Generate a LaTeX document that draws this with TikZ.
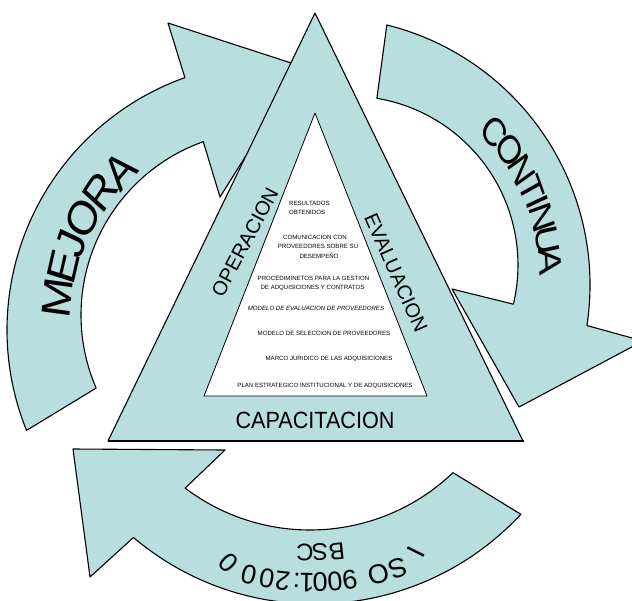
\documentclass[tikz,border=0pt]{standalone}
\usepackage{fontspec}
\setmainfont{Liberation Sans}
\definecolor{bandfill}{RGB}{184,222,224}
\begin{document}
\begin{tikzpicture}[x=1pt,y=-1pt,
  band/.style={fill=bandfill, draw=black, line width=1.1pt, line join=round},
  inner/.style={fill=white, draw=black, line width=0.8pt, line join=round},
  bigM/.style={font=\fontsize{48}{48}\selectfont, inner sep=0pt, text height=34.4pt, text depth=0pt, xscale=0.85},
  bigC/.style={font=\fontsize{40}{40}\selectfont, inner sep=0pt, text height=28.6pt, text depth=0pt, xscale=0.8},
  iso/.style={font=\fontsize{27}{27}\selectfont, inner sep=0pt, text height=19.3pt, text depth=0pt},
  bsc/.style={font=\fontsize{24}{24}\selectfont, inner sep=0pt, text height=17.2pt, text depth=0pt},
  side/.style={font=\fontsize{20}{20}\selectfont, inner sep=0pt},
  small/.style={font=\fontsize{6.1}{7}\selectfont, inner sep=0pt},
]
\useasboundingbox (0,0) rectangle (632,600);
\clip (0,0) rectangle (632,600);

% MEJORA arrow
\draw[band] ([shift={(158:268)}]275,330) arc[start angle=158, end angle=250.35, radius=268]
  -- (168,23) -- (302,66.5) -- (220,197)
  -- ([shift={(250.4:184)}]265,315) arc[start angle=250.4, end angle=156.6, radius=184] -- cycle;

% CONTINUA arrow
\draw[band] ([shift={(-76:268)}]322,285) arc[start angle=-76, end angle=8.7, radius=268]
  -- (643,341) -- (519,407) -- (452,289)
  -- ([shift={(13.4:169)}]349,265) arc[start angle=13.4, end angle=-80.5, radius=169] -- cycle;

% BSC / ISO arrow
\draw[band] ([shift={(42.9:281)}]315,323) arc[start angle=42.9, end angle=130.25, radius=281]
  -- (90,577) -- (73,449) -- (225,450)
  -- ([shift={(127.1:207)}]310,323) arc[start angle=127.1, end angle=46.3, radius=207] -- cycle;

% triangle
\draw[band] (315,13) -- (523,441) -- (108,441) -- cycle;
\draw[line width=2.6pt] (108,441) -- (524,441);
\draw[inner] (315,113) -- (427,396) -- (204,396) -- cycle;

% arc texts
\foreach \ch/\a [count=\i] in {M/186.6,E/195.1,J/201.7,O/209.0,R/217.5,A/225.4}
  \node[bigM, rotate={-90-(\a)}] (mej\i) at ([shift={(\a:214)}]270,322) {\ch};
\foreach \ch/\a [count=\i] in {C/-42.4,O/-36.0,N/-29.7,T/-24.0,I/-20.3,N/-16.0,U/-9.9,A/-4.0}
  \node[bigC, rotate={-90-(\a)}] (con\i) at ([shift={(\a:216)}]335,277) {\ch};
\node[iso, rotate=-116.6] (isoI) at (416,552) {I};
\foreach \ch/\a [count=\i] in {S/70.7,O/75.2,9/81.6,0/84.9,0/88.2,1/91.1,:/93.4,2/96.5,0/100.0,0/104.1}
  \node[iso, rotate={-90-(\a)}] (iso\i) at ([shift={(\a:260)}]312,323) {\ch};
\node[iso, rotate=135] (isoZ) at (228,563) {0};
\foreach \ch/\a [count=\i] in {B/83.8,S/88.0,C/91.75}
  \node[bsc, rotate={-90-(\a)}] (bsc\i) at ([shift={(\a:230)}]312,323) {\ch};

% triangle labels
\node[side, rotate=62] (oper) at (245,242) {OPERACION};
\node[side, rotate=-66] (eval) at (396,273) {EVALUACION};
\node[font=\fontsize{23.5}{24}\selectfont, inner sep=0pt, xscale=0.92] (capa) at (315,420) {CAPACITACION};

% inner texts
\node[small, anchor=west] (r1) at (289,203.5) {RESULTADOS};
\node[small, anchor=west] (r2) at (289,212.5) {OBTENIDOS};
\node[small] (c1) at (315,237) {COMUNICACION CON};
\node[small] (c2) at (318,246.5) {PROVEEDORES SOBRE SU};
\node[small] (c3) at (319,256) {DESEMPEÑO};
\node[small] (p1) at (313.5,278) {PROCEDIMINETOS PARA LA GESTION};
\node[small] (p2) at (312.5,287.5) {DE ADQUISICIONES Y CONTRATOS};
\node[small, font=\fontsize{6.1}{7}\selectfont\itshape] (m1) at (316,308) {MODELO DE EVALUACION DE PROVEEDORES};
\node[small] (m2) at (324,333) {MODELO DE SELECCION DE PROVEEDORES};
\node[small] (m3) at (329,358.5) {MARCO JURIDICO DE LAS ADQUISICIONES};
\node[small] (m4) at (325,386) {PLAN ESTRATEGICO INSTITUCIONAL Y DE ADQUISICIONES};
\end{tikzpicture}
\end{document}
